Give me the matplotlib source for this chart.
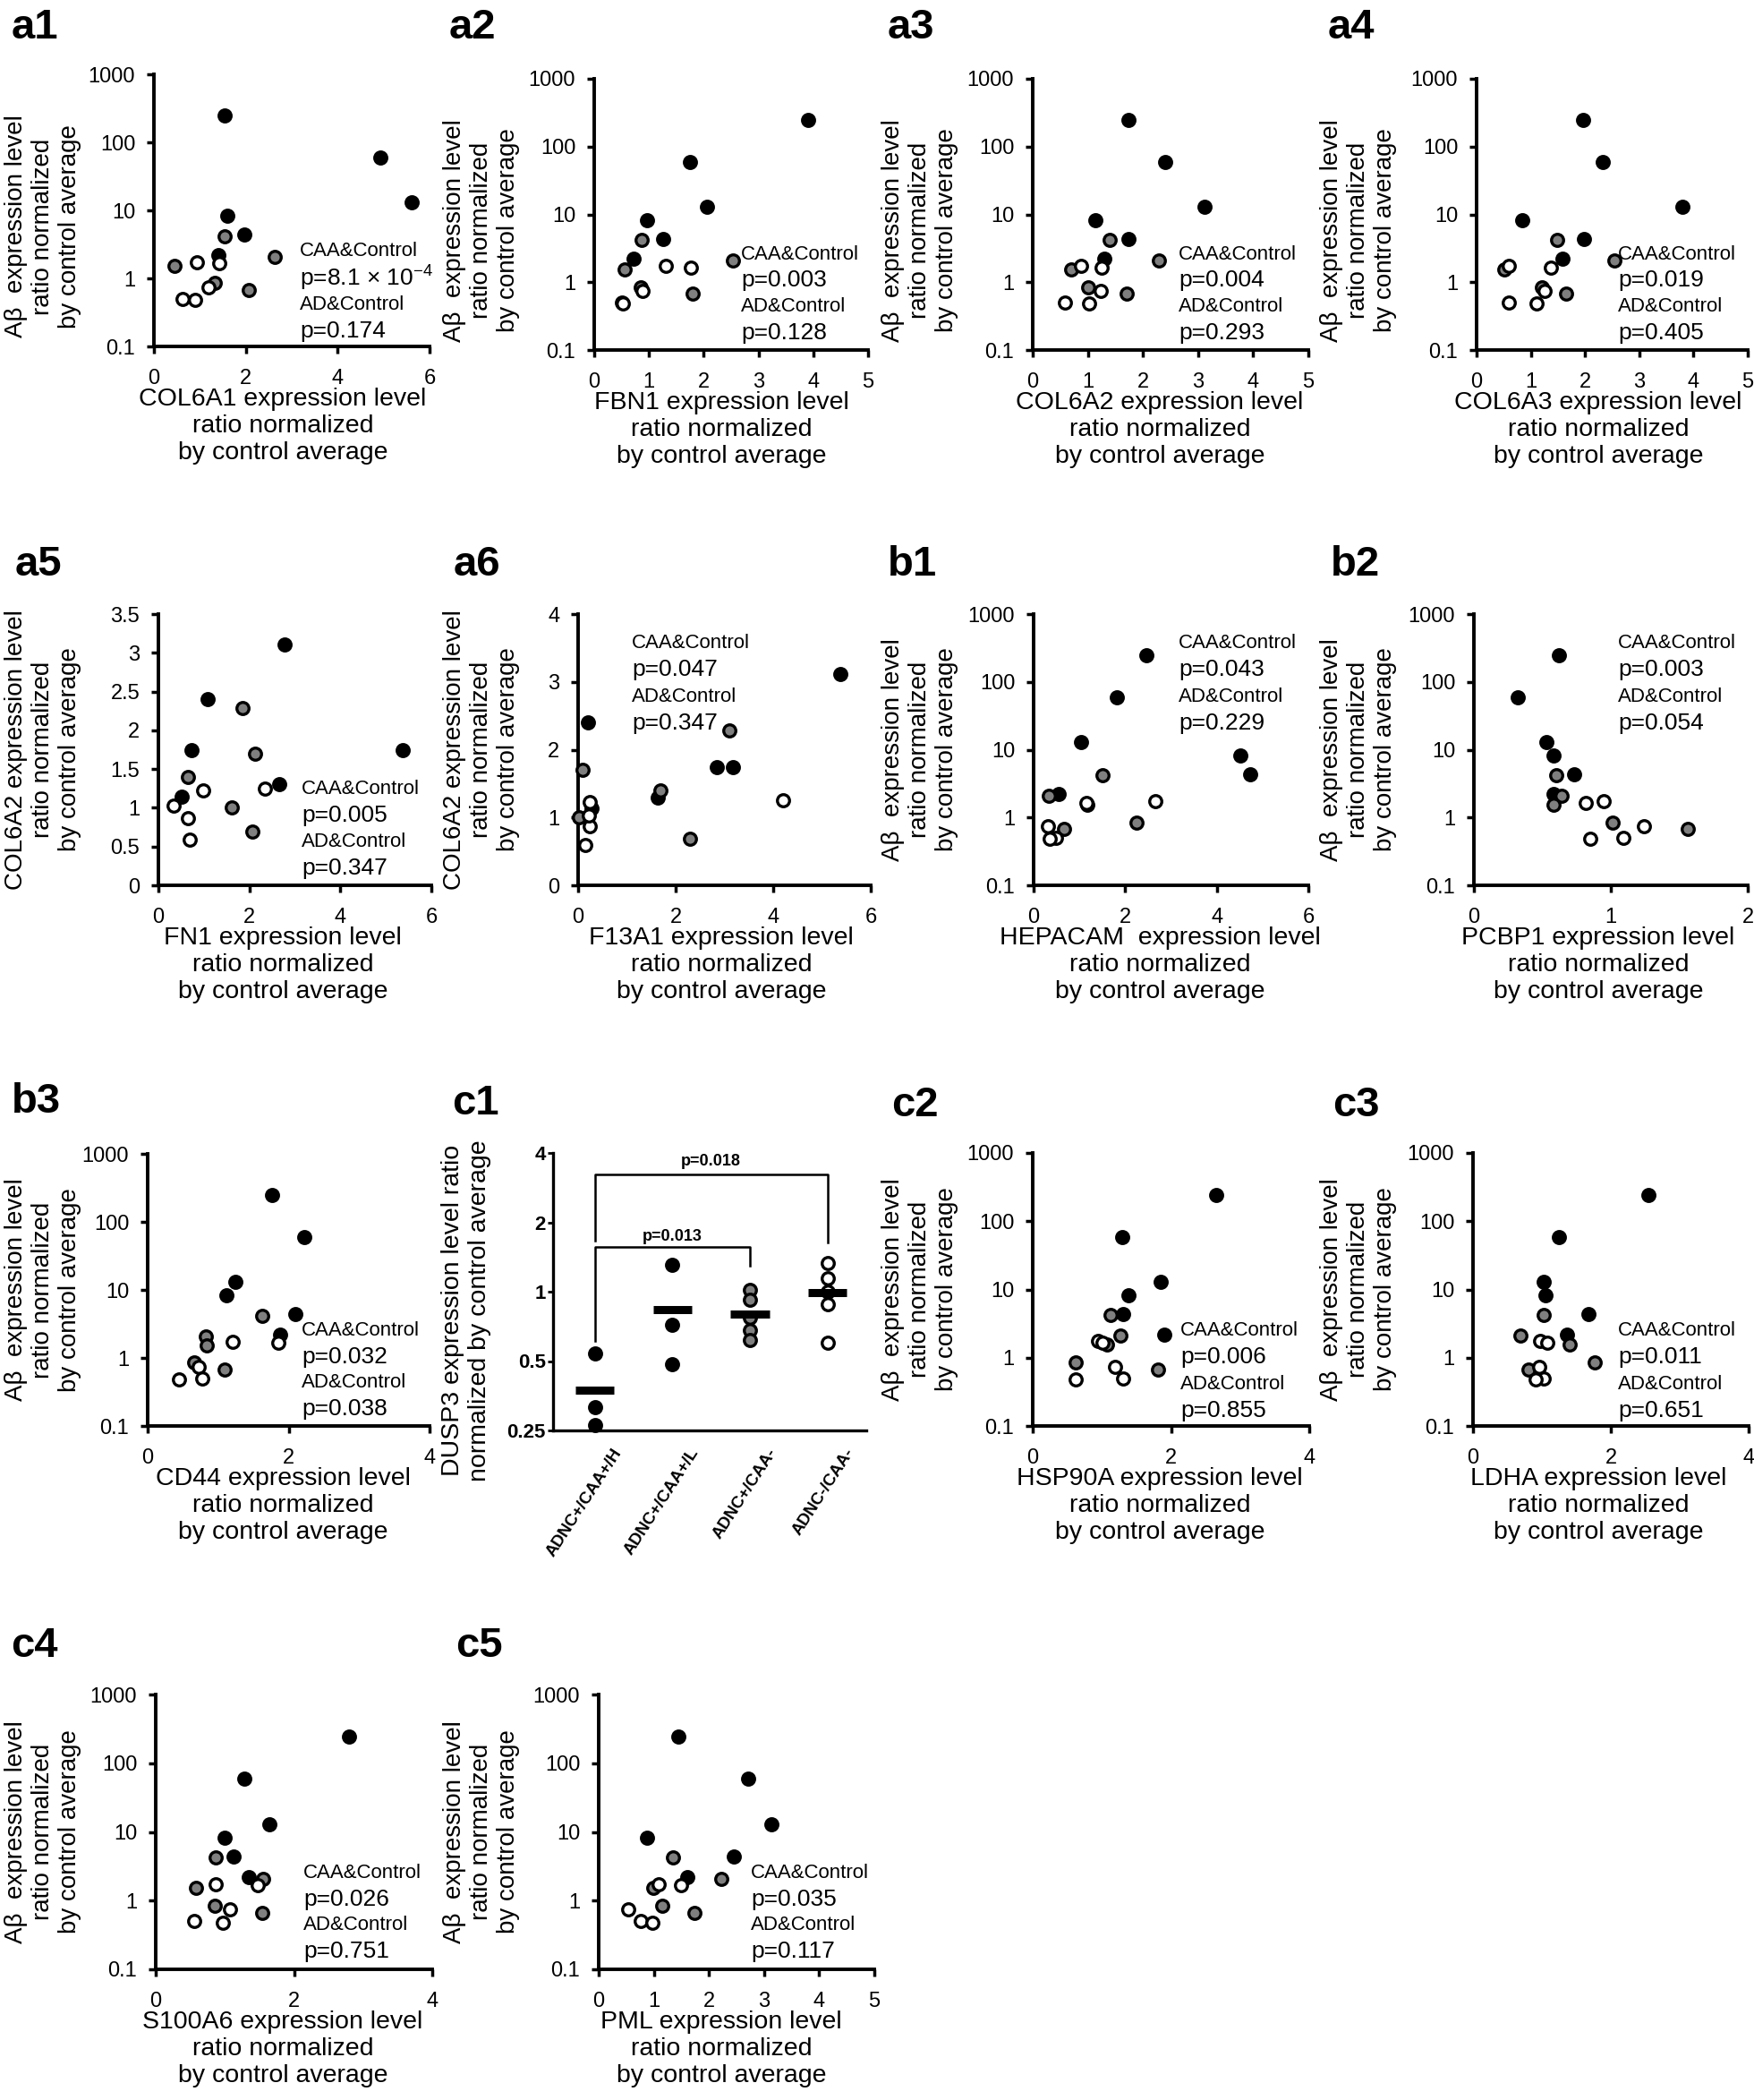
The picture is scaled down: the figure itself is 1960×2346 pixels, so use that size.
import numpy as np
import matplotlib.pyplot as plt
from matplotlib.ticker import NullLocator
from matplotlib.transforms import blended_transform_factory

plt.rcParams['font.family'] = ['Liberation Sans', 'DejaVu Sans']
plt.rcParams['mathtext.fontset'] = 'custom'
plt.rcParams['mathtext.rm'] = 'Liberation Sans'
plt.rcParams['mathtext.default'] = 'regular'

W, H = 1960, 2346

# A-beta ratio (y of the log panels); black = CAA high, gray = AD, white = control
abeta_black = [245, 59, 13, 8.3, 4.4, 2.2]
abeta_gray = [4.2, 2.1, 1.55, 0.85, 0.67]
abeta_white = [1.75, 1.66, 0.74, 0.50, 0.48]

# gene ratios, same subject order as above
col6a1_black = [1.54, 4.93, 5.61, 1.60, 1.97, 1.41]
col6a1_gray = [1.54, 2.63, 0.45, 1.33, 2.06]
col6a1_white = [0.93, 1.43, 1.19, 0.63, 0.89]

fbn1_black = [3.90, 1.75, 2.06, 0.97, 1.26, 0.72]
fbn1_gray = [0.86, 2.53, 0.55, 0.85, 1.80]
fbn1_white = [1.31, 1.77, 0.89, 0.50, 0.52]

col6a2_black = [1.74, 2.40, 3.11, 1.14, 1.74, 1.30]
col6a2_gray = [1.40, 2.29, 0.69, 1.00, 1.70]
col6a2_white = [0.87, 1.25, 1.23, 0.59, 1.03]

col6a3_black = [1.97, 2.32, 3.80, 0.84, 1.98, 1.58]
col6a3_gray = [1.49, 2.54, 0.51, 1.21, 1.65]
col6a3_white = [0.59, 1.37, 1.26, 0.60, 1.11]

fn1_black = [0.72, 1.08, 2.77, 0.52, 5.38, 2.66]
fn1_gray = [0.64, 1.84, 2.07, 1.62, 2.13]
fn1_white = [0.64, 2.35, 0.98, 0.69, 0.33]

f13a1_black = [3.18, 0.20, 5.38, 0.27, 2.85, 1.64]
f13a1_gray = [1.69, 3.10, 2.29, 0.01, 0.10]
f13a1_white = [0.24, 4.20, 0.24, 0.15, 0.22]

hepacam_black = [2.47, 1.81, 1.04, 4.52, 4.72, 0.55]
hepacam_gray = [1.50, 0.33, 1.17, 2.25, 0.67]
hepacam_white = [2.65, 1.16, 0.31, 0.48, 0.36]

pcbp1_black = [0.62, 0.32, 0.53, 0.58, 0.73, 0.58]
pcbp1_gray = [0.60, 0.64, 0.58, 1.01, 1.56]
pcbp1_white = [0.95, 0.82, 1.24, 1.09, 0.85]

cd44_black = [1.76, 2.22, 1.25, 1.12, 2.10, 1.88]
cd44_gray = [1.63, 0.82, 0.84, 0.66, 1.09]
cd44_white = [1.21, 1.85, 0.73, 0.78, 0.45]

hsp90a_black = [2.65, 1.30, 1.85, 1.39, 1.31, 1.90]
hsp90a_gray = [1.13, 1.27, 1.07, 0.62, 1.81]
hsp90a_white = [0.95, 1.01, 1.19, 1.31, 0.62]

ldha_black = [2.55, 1.25, 1.03, 1.05, 1.68, 1.37]
ldha_gray = [1.03, 0.69, 1.40, 1.77, 0.81]
ldha_white = [0.97, 1.08, 0.96, 1.03, 0.91]

s100a6_black = [2.79, 1.28, 1.64, 1.00, 1.13, 1.34]
s100a6_gray = [0.87, 1.55, 0.58, 0.85, 1.54]
s100a6_white = [0.87, 1.47, 1.07, 0.56, 0.97]

pml_black = [1.44, 2.71, 3.14, 0.88, 2.45, 1.60]
pml_gray = [1.34, 2.23, 0.99, 1.15, 1.74]
pml_white = [1.09, 1.50, 0.53, 0.76, 0.98]

# c1: DUSP3 by group
dusp3_groups = ['ADNC+/CAA+/H', 'ADNC+/CAA+/L', 'ADNC+/CAA-', 'ADNC-/CAA-']
dusp3_h = [0.54, 0.315, 0.264]
dusp3_l = [1.31, 0.72, 0.486]
dusp3_caa_neg = [1.02, 0.92, 0.77, 0.68, 0.615]
dusp3_control = [1.33, 1.14, 1.00, 0.88, 0.60]

# p values per scatter panel
panel_names = ['a1', 'a2', 'a3', 'a4', 'a5', 'a6', 'b1', 'b2', 'b3', 'c2', 'c3', 'c4', 'c5']
caa_p = ['p=8.1 × 10$^{-4}$', 'p=0.003', 'p=0.004', 'p=0.019', 'p=0.005', 'p=0.047',
         'p=0.043', 'p=0.003', 'p=0.032', 'p=0.006', 'p=0.011', 'p=0.026', 'p=0.035']
ad_p = ['p=0.174', 'p=0.128', 'p=0.293', 'p=0.405', 'p=0.347', 'p=0.347',
        'p=0.229', 'p=0.054', 'p=0.038', 'p=0.855', 'p=0.651', 'p=0.751', 'p=0.117']

fig = plt.figure(figsize=(W / 100, H / 100), dpi=100)


def px_axes(box):
    x0, y0, x1, y1 = box
    return fig.add_axes([x0 / W, 1 - y1 / H, (x1 - x0) / W, (y1 - y0) / H])


def fig_text(x, y, s, **kw):
    return fig.text(x / W, 1 - y / H, s, **kw)


def scatter_groups(ax, xs, ys):
    for x, y, fc in zip(xs, ys, ['black', '#7f7f7f', 'white']):
        ax.scatter(x, y, s=95, c=fc, edgecolors='black', linewidths=2.4,
                   zorder=3, clip_on=False)


def frame(ax, xticks, yticks, ylabels):
    ax.spines[['top', 'right']].set_visible(False)
    ax.spines[['left', 'bottom']].set_linewidth(2.8)
    ax.tick_params(direction='out', length=6, width=2.5, labelsize=17)
    ax.tick_params(axis='x', pad=12)
    ax.tick_params(axis='y', pad=9)
    ax.set_xticks(xticks)
    ax.set_xticklabels([f'{t:g}' for t in xticks])
    ax.set_yticks(yticks)
    ax.set_yticklabels(ylabels)
    ax.yaxis.set_minor_locator(NullLocator())
    ax.xaxis.set_minor_locator(NullLocator())


def labels(box, col, xname, yname, ydown=0):
    x0, y0, x1, y1 = box
    fig_text(col + 316, y1 + 46, f'{xname} expression level\nratio normalized\nby control average',
             ha='center', va='top', fontsize=20.5)
    fig_text(col + 48, (y0 + y1) / 2 + ydown,
             f'{yname} expression level\nratio normalized\nby control average',
             rotation=90, ha='center', va='center', fontsize=20)


def annotate(i, x, y):
    fig_text(x, y, 'CAA&Control', va='center', fontsize=16)
    fig_text(x, y + 29.5, caa_p[i], va='center', fontsize=19)
    fig_text(x, y + 59, 'AD&Control', va='center', fontsize=16)
    fig_text(x, y + 88.5, ad_p[i], va='center', fontsize=19)


log_ticks = [0.1, 1, 10, 100, 1000]
log_labels = ['0.1', '1', '10', '100', '1000']
abeta = (abeta_black, abeta_gray, abeta_white)
ab_name = 'Aβ '

# name, gene, xs, xmax, xstep, box, column origin, annotation pos, label pos
log_panels = [
    ('a1', 'COL6A1', (col6a1_black, col6a1_gray, col6a1_white), 6, 2, (172, 83, 480, 387), 0, (335, 281), (13, 43), 18),
    ('a2', 'FBN1', (fbn1_black, fbn1_gray, fbn1_white), 5, 1, (664, 88, 970, 391), 490, (828, 284), (502, 43), 18),
    ('a3', 'COL6A2', (col6a2_black, col6a2_gray, col6a2_white), 5, 1, (1154, 88, 1462, 391), 980, (1317, 284), (992, 43), 18),
    ('a4', 'COL6A3', (col6a3_black, col6a3_gray, col6a3_white), 5, 1, (1650, 88, 1953, 391), 1470, (1808, 284), (1484, 43), 18),
    ('b1', 'HEPACAM ', (hepacam_black, hepacam_gray, hepacam_white), 6, 2, (1155, 686, 1462, 989), 980, (1317, 719), (992, 643), 0),
    ('b2', 'PCBP1', (pcbp1_black, pcbp1_gray, pcbp1_white), 2, 1, (1647, 686, 1953, 989), 1470, (1808, 719), (1487, 643), 0),
    ('b3', 'CD44', (cd44_black, cd44_gray, cd44_white), 4, 2, (165, 1289, 480, 1593), 0, (337, 1486), (13, 1243), 0),
    ('c2', 'HSP90A', (hsp90a_black, hsp90a_gray, hsp90a_white), 4, 2, (1154, 1288, 1463, 1593), 980, (1319, 1487), (996, 1247), 0),
    ('c3', 'LDHA', (ldha_black, ldha_gray, ldha_white), 4, 2, (1646, 1288, 1954, 1593), 1470, (1808, 1487), (1489, 1247), 0),
    ('c4', 'S100A6', (s100a6_black, s100a6_gray, s100a6_white), 4, 2, (174, 1893, 483, 2200), 0, (339, 2092), (12, 1851), 0),
    ('c5', 'PML', (pml_black, pml_gray, pml_white), 5, 1, (669, 1893, 977, 2200), 490, (839, 2092), (509, 1851), 0),
]

for name, gene, xs, xmax, xstep, box, col, ann, lab, ydown in log_panels:
    ax = px_axes(box)
    ax.set_yscale('log')
    ax.set_ylim(0.1, 1000)
    ax.set_xlim(0, xmax)
    scatter_groups(ax, xs, abeta)
    frame(ax, np.arange(0, xmax + 0.5, xstep), log_ticks, log_labels)
    labels(box, col, gene, ab_name, ydown)
    annotate(panel_names.index(name), *ann)
    fig_text(lab[0], lab[1], name, fontsize=34, fontweight='bold', va='baseline')

# a5, a6: COL6A2 against FN1 / F13A1
col6a2 = (col6a2_black, col6a2_gray, col6a2_white)
lin_panels = [
    ('a5', 'FN1', (fn1_black, fn1_gray, fn1_white), 3.5, 0.5, (177, 686, 482, 989), 0, (337, 882), (17, 643)),
    ('a6', 'F13A1', (f13a1_black, f13a1_gray, f13a1_white), 4, 1, (646, 686, 973, 989), 490, (706, 719), (507, 643)),
]
for name, gene, xs, ymax, ystep, box, col, ann, lab in lin_panels:
    ax = px_axes(box)
    ax.set_ylim(0, ymax)
    ax.set_xlim(0, 6)
    scatter_groups(ax, xs, col6a2)
    yt = np.arange(0, ymax + 0.01, ystep)
    frame(ax, [0, 2, 4, 6], yt, [f'{t:g}' for t in yt])
    labels(box, col, gene, 'COL6A2')
    annotate(panel_names.index(name), *ann)
    fig_text(lab[0], lab[1], name, fontsize=34, fontweight='bold', va='baseline')

# c1: DUSP3 group dot plot
ax = px_axes((618, 1288, 968, 1598))
ax.set_yscale('log', base=2)
ax.set_ylim(0.25, 4)
ax.set_xlim(0.46, 4.5)
groups = [dusp3_h, dusp3_l, dusp3_caa_neg, dusp3_control]
for i, (vals, fc) in enumerate(zip(groups, ['black', 'black', '#7f7f7f', 'white']), start=1):
    ax.scatter([i] * len(vals), vals, s=95, c=fc, edgecolors='black', linewidths=2.4,
               zorder=3, clip_on=False)
    ax.hlines(np.mean(vals), i - 0.25, i + 0.25, color='black', lw=6.5, zorder=4)
ax.spines[['top', 'right']].set_visible(False)
ax.spines[['left', 'bottom']].set_linewidth(2.4)
ax.set_yticks([0.25, 0.5, 1, 2, 4])
ax.set_yticklabels(['0.25', '0.5', '1', '2', '4'], fontsize=16, fontweight='bold')
ax.yaxis.set_minor_locator(NullLocator())
ax.tick_params(axis='y', direction='out', length=4, width=2, pad=2)
ax.set_xticks([])
trans = blended_transform_factory(ax.transData, ax.transAxes)
for i, g in enumerate(dusp3_groups, start=1):
    ax.text(i + 0.3, -0.07, g, transform=trans, rotation=57, rotation_mode='anchor',
            ha='right', va='center', fontsize=13.5, fontweight='bold')
ax.plot([1, 1, 4, 4], [1.67, 3.23, 3.23, 1.63], color='black', lw=1.8, clip_on=False)
ax.plot([1, 1, 3, 3], [0.61, 1.56, 1.56, 1.30], color='black', lw=1.8, clip_on=False)
ax.text(2.5, 3.66, 'p=0.018', ha='center', va='center', fontsize=13, fontweight='bold')
ax.text(2.0, 1.74, 'p=0.013', ha='center', va='center', fontsize=13, fontweight='bold')
fig_text(521, 1464, 'DUSP3 expression level ratio\nnormalized by control average',
         rotation=90, ha='center', va='center', fontsize=20.5)
fig_text(505, 1245, 'c1', fontsize=34, fontweight='bold', va='baseline')

fig.savefig('out.png', dpi=100)
